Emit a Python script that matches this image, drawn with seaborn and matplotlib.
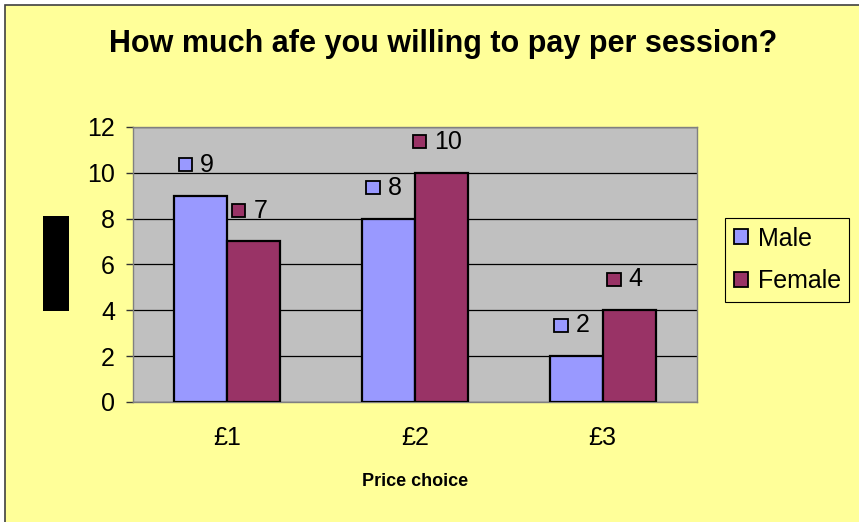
import numpy as np
import pandas as pd
import seaborn as sns
import matplotlib.pyplot as plt
from matplotlib.patches import Rectangle
from matplotlib.offsetbox import AnnotationBbox, HPacker, DrawingArea, TextArea

# chart data
prices = ['£1', '£2', '£3']
male = [9, 8, 2]
female = [7, 10, 4]
groups = ['Male', 'Female']
colors = {'Male': '#9999FF', 'Female': '#993366'}

df = pd.DataFrame({
    'price': prices * 2,
    'gender': ['Male'] * len(prices) + ['Female'] * len(prices),
    'count': male + female,
})

sns.set_theme(style='ticks')
plt.rcParams['font.family'] = ['Liberation Sans', 'DejaVu Sans']
plt.rcParams['text.color'] = 'black'
plt.rcParams['axes.labelcolor'] = 'black'
plt.rcParams['xtick.color'] = 'black'
plt.rcParams['ytick.color'] = 'black'

fig = plt.figure(figsize=(8.59, 5.22), dpi=100, facecolor='white')
ax = fig.add_axes([0.155, 0.230, 0.656, 0.527])

# chart area background + border
fig.add_artist(Rectangle((5 / 859, -0.1), 1.1, 1.1 - 5 / 522,
                         transform=fig.transFigure, facecolor='#FFFF99',
                         edgecolor='#404040', lw=1.2, zorder=-10))
# the blacked-out y axis title
fig.add_artist(Rectangle((43 / 859, 1 - 311 / 522), 26 / 859, 95 / 522,
                         transform=fig.transFigure, facecolor='black',
                         edgecolor='none', zorder=5))

sns.barplot(data=df, x='price', y='count', hue='gender', hue_order=groups,
            palette=colors, width=0.565, gap=0, edgecolor='black',
            linewidth=1.6, saturation=1, ax=ax, zorder=3)

ax.set_facecolor('#C0C0C0')
ax.set_ylim(0, 12)
ax.set_xlim(-0.5, 2.5)
ax.set_yticks(np.arange(0, 13, 2))
ax.yaxis.grid(True, color='black', lw=0.9, zorder=1)
ax.set_axisbelow(True)
for side in ['top', 'right', 'bottom', 'left']:
    ax.spines[side].set_visible(True)
    ax.spines[side].set_color('#808080')
    ax.spines[side].set_linewidth(1)
ax.tick_params(axis='y', length=5, width=1, color='#333333', labelsize=18, pad=8)
ax.tick_params(axis='x', length=0, labelsize=18, pad=17)
ax.set_ylabel('')
ax.set_xlabel('Price choice', fontsize=13, weight='bold')
ax.xaxis.set_label_coords(0.5, -0.258)

fig.text(0.516, 0.916, 'How much afe you willing to pay per session?',
         ha='center', va='center', fontsize=22, weight='bold')

# data labels with legend keys
for cont, g in zip(ax.containers, groups):
    for bar in cont:
        xc = bar.get_x() + bar.get_width() / 2
        h = bar.get_height()
        da = DrawingArea(9.5, 9.5, 0, 0)
        da.add_artist(Rectangle((0, 0), 9.5, 9.5, facecolor=colors[g],
                                edgecolor='black', lw=1.3))
        ta = TextArea(f'{h:g}', textprops=dict(fontsize=18, color='black'))
        box = HPacker(children=[da, ta], align='center', pad=0, sep=6)
        ab = AnnotationBbox(box, (xc, h + 1.35), xybox=(-3, 0),
                            xycoords='data', boxcoords='offset points',
                            frameon=False, box_alignment=(0.5, 0.5), zorder=6)
        ax.add_artist(ab)

sns.move_legend(ax, 'center left', bbox_to_anchor=(725 / 859, 1 - 260 / 522),
                bbox_transform=fig.transFigure, title=None, frameon=True,
                fontsize=18, handlelength=0.55, handleheight=0.55,
                handletextpad=0.4, labelspacing=0.75, borderpad=0.35,
                fancybox=False, framealpha=1, edgecolor='black',
                facecolor='#FFFF99', borderaxespad=0)
leg = ax.get_legend()
leg.get_frame().set_linewidth(0.8)
for hd in leg.legend_handles:
    hd.set_edgecolor('black')
    hd.set_linewidth(1.3)

fig.savefig('out.png', dpi=100, facecolor='white')
